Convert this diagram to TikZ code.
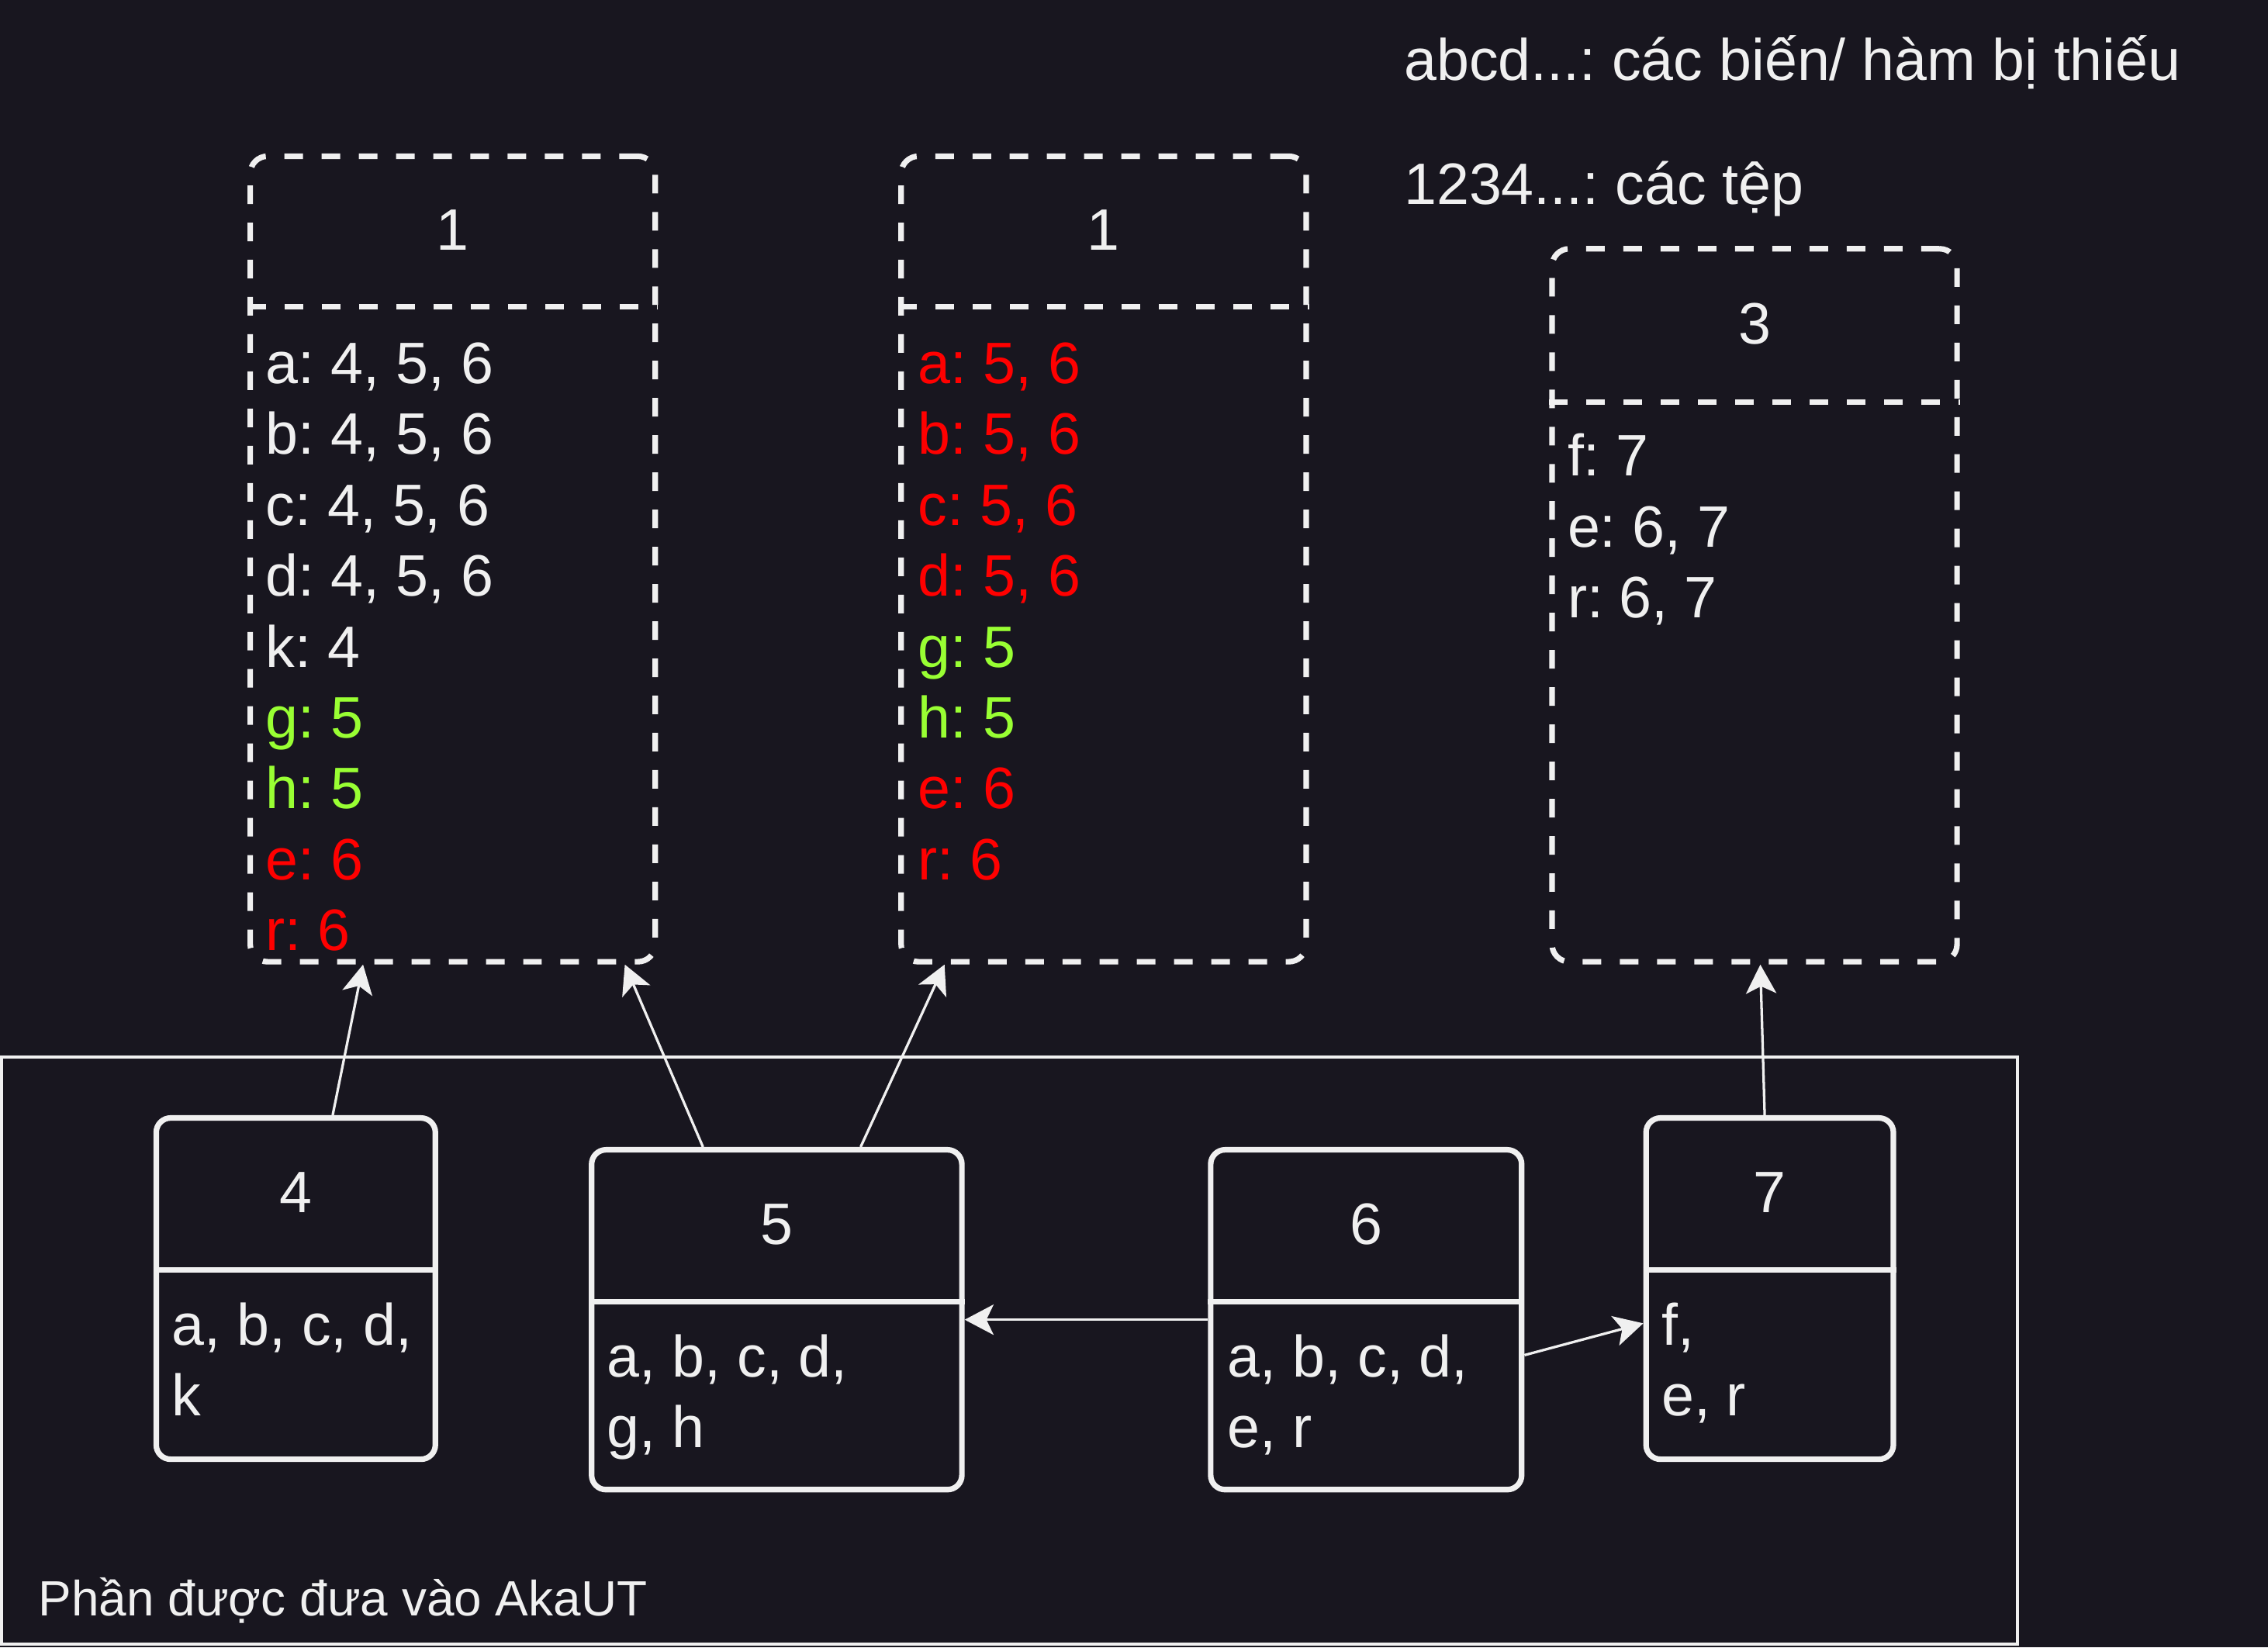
\documentclass[tikz,border=0pt]{standalone}
\usepackage{fontspec}
\setmainfont{Liberation Sans}
\usepackage{xcolor}
\usetikzlibrary{arrows.meta,positioning}
\definecolor{bgDark}{RGB}{24,22,31}
\definecolor{lineWhite}{RGB}{240,240,240}
\definecolor{missRed}{RGB}{255,0,0}
\definecolor{addGreen}{RGB}{153,255,51}
\newcommand{\bodyfont}{\fontsize{11.5}{13.95}\selectfont}
\newcommand{\labelfont}{\fontsize{9.75}{12}\selectfont}
\frenchspacing

\begin{document}
\begin{tikzpicture}[x=1cm,y=-1cm,
    filebox/.style={draw=lineWhite, line width=1.1pt, dash pattern=on 3.66pt off 3.66pt, rounded corners=0.12cm, inner sep=0pt},
    filesplit/.style={draw=lineWhite, line width=1.1pt, dash pattern=on 3.66pt off 3.66pt},
    unitbox/.style={draw=lineWhite, line width=1.1pt, rounded corners=0.1cm, inner sep=0pt},
    unitsplit/.style={draw=lineWhite, line width=1.1pt},
    numlabel/.style={text=lineWhite, font=\bodyfont, inner sep=0pt},
    listing/.style={anchor=north west, align=left, inner sep=0pt, text=lineWhite, font=\bodyfont},
    note/.style={anchor=base west, inner sep=0pt, text=lineWhite, font=\bodyfont},
    link/.style={draw=lineWhite, line width=0.5pt, -{Stealth[length=0.2cm, width=0.21cm, inset=0.05cm]}}]

    % background and page size
    \fill[bgDark] (0,0) rectangle (15.68,11.39);
    \useasboundingbox (0,0) rectangle (15.68,11.39);

    % legend
    \node[note] (legendVar) at (9.70,0.554) {abcd...: các biến/ hàm bị thiếu};
    \node[note] (legendFile) at (9.70,1.412) {1234...: các tệp};

    % part handed to AkaUT
    \node[draw=lineWhite, line width=0.6pt, minimum width=13.94cm, minimum height=4.06cm, inner sep=0pt] (akaut) at (6.98,9.34) {};
    \node[note, font=\labelfont] (akautLabel) at (0.26,11.17) {Phần được đưa vào AkaUT};

    % file boxes (top)
    \node[filebox, minimum width=2.80cm, minimum height=5.57cm] (fileA) at (3.13,3.865) {};
    \draw[filesplit] ([yshift=-1.06cm]fileA.north west) -- ([yshift=-1.06cm]fileA.north east);
    \node[numlabel] (fileAnum) at ([yshift=-0.53cm]fileA.north) {1};
    \node[listing] (fileAvars) at ([xshift=0.12cm,yshift=-1.24cm]fileA.north west)
        {\strut a: 4, 5, 6\\ b: 4, 5, 6\\ c: 4, 5, 6\\ d: 4, 5, 6\\ k: 4\\
         \textcolor{addGreen}{g: 5}\\ \textcolor{addGreen}{h: 5}\\
         \textcolor{missRed}{e: 6}\\ \textcolor{missRed}{r: 6}};

    \node[filebox, minimum width=2.80cm, minimum height=5.57cm] (fileB) at (7.63,3.865) {};
    \draw[filesplit] ([yshift=-1.06cm]fileB.north west) -- ([yshift=-1.06cm]fileB.north east);
    \node[numlabel] (fileBnum) at ([yshift=-0.53cm]fileB.north) {1};
    \node[listing] (fileBvars) at ([xshift=0.13cm,yshift=-1.24cm]fileB.north west)
        {\strut\textcolor{missRed}{a: 5, 6}\\ \textcolor{missRed}{b: 5, 6}\\
         \textcolor{missRed}{c: 5, 6}\\ \textcolor{missRed}{d: 5, 6}\\
         \textcolor{addGreen}{g: 5}\\ \textcolor{addGreen}{h: 5}\\
         \textcolor{missRed}{e: 6}\\ \textcolor{missRed}{r: 6}};

    \node[filebox, minimum width=2.80cm, minimum height=4.93cm] (fileC) at (12.13,4.185) {};
    \draw[filesplit] ([yshift=-1.08cm]fileC.north west) -- ([yshift=-1.08cm]fileC.north east);
    \node[numlabel] (fileCnum) at ([yshift=-0.54cm]fileC.north) {3};
    \node[listing] (fileCvars) at ([xshift=0.12cm,yshift=-1.24cm]fileC.north west)
        {\strut f: 7\\ e: 6, 7\\ r: 6, 7};

    % unit boxes (bottom)
    \node[unitbox, minimum width=1.93cm, minimum height=2.36cm] (unit4) at (2.045,8.91) {};
    \draw[unitsplit] ([yshift=-1.07cm]unit4.north west) -- ([yshift=-1.07cm]unit4.north east);
    \node[numlabel] (unit4num) at ([yshift=-0.535cm]unit4.north) {4};
    \node[listing] (unit4vars) at ([xshift=0.12cm,yshift=-1.24cm]unit4.north west)
        {\strut a, b, c, d,\\ k};

    \node[unitbox, minimum width=2.56cm, minimum height=2.35cm] (unit5) at (5.37,9.125) {};
    \draw[unitsplit] ([yshift=-1.07cm]unit5.north west) -- ([yshift=-1.07cm]unit5.north east);
    \node[numlabel] (unit5num) at ([yshift=-0.535cm]unit5.north) {5};
    \node[listing] (unit5vars) at ([xshift=0.12cm,yshift=-1.24cm]unit5.north west)
        {\strut a, b, c, d,\\ g, h};

    \node[unitbox, minimum width=2.15cm, minimum height=2.35cm] (unit6) at (9.445,9.125) {};
    \draw[unitsplit] ([yshift=-1.07cm]unit6.north west) -- ([yshift=-1.07cm]unit6.north east);
    \node[numlabel] (unit6num) at ([yshift=-0.535cm]unit6.north) {6};
    \node[listing] (unit6vars) at ([xshift=0.13cm,yshift=-1.24cm]unit6.north west)
        {\strut a, b, c, d,\\ e, r};

    \node[unitbox, minimum width=1.71cm, minimum height=2.36cm] (unit7) at (12.235,8.91) {};
    \draw[unitsplit] ([yshift=-1.07cm]unit7.north west) -- ([yshift=-1.07cm]unit7.north east);
    \node[numlabel] (unit7num) at ([yshift=-0.535cm]unit7.north) {7};
    \node[listing] (unit7vars) at ([xshift=0.12cm,yshift=-1.24cm]unit7.north west)
        {\strut f,\\ e, r};

    % dependencies
    \draw[link] ([xshift=0.255cm]unit4.north) -- ([xshift=-0.62cm]fileA.south);
    \draw[link] ([xshift=-0.51cm]unit5.north) -- ([xshift=1.19cm]fileA.south);
    \draw[link] ([xshift=0.58cm]unit5.north) -- ([xshift=-1.10cm]fileB.south);
    \draw[link] (unit6.west) -- (unit5.east);
    \draw[link] ([yshift=-0.245cm]unit6.east) -- ([yshift=-0.24cm]unit7.west);
    \draw[link] ([xshift=-0.035cm]unit7.north) -- ([xshift=0.04cm]fileC.south);

\end{tikzpicture}
\end{document}
